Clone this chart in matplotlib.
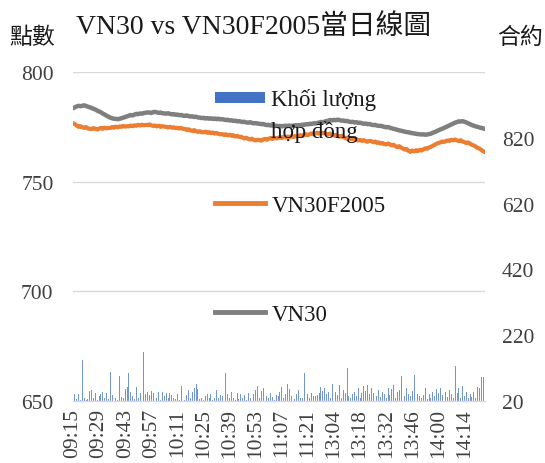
import matplotlib
matplotlib.use("Agg")
import matplotlib.pyplot as plt
from matplotlib.patches import Patch, Rectangle
from matplotlib.lines import Line2D
from matplotlib.legend_handler import HandlerPatch
import numpy as np

plt.rcParams['font.family'] = ['Liberation Serif', 'Noto Sans CJK TC', 'DejaVu Sans']

# ---- categories (minutes) ----
morning = [f"{h:02d}:{m:02d}" for h in (9, 10, 11) for m in range(60)
           if (h, m) >= (9, 15) and (h, m) <= (11, 30)]
afternoon = [f"{h:02d}:{m:02d}" for h in (13, 14) for m in range(60)
             if (h, m) <= (14, 25)]
times = morning + afternoon

vn30 = [
    783.5, 783.9, 784.3, 784.6, 784.4, 784.6, 784.8, 784.5, 784.2, 783.9,
    783.6, 783.2, 782.9, 782.4, 782.0, 781.6, 781.0, 780.6, 780.1, 779.6,
    779.2, 778.9, 778.7, 778.6, 778.5, 778.7, 778.9, 779.2, 779.5, 779.8,
    780.1, 780.4, 780.2, 780.6, 780.9, 780.8, 781.1, 781.0, 781.3, 781.4,
    781.6, 781.5, 781.3, 781.7, 781.8, 781.6, 781.4, 781.5, 781.2, 781.1,
    781.0, 781.2, 780.9, 780.7, 780.8, 780.5, 780.6, 780.3, 780.4, 780.1,
    780.0, 780.2, 779.9, 779.7, 779.8, 779.5, 779.6, 779.3, 779.2, 779.0,
    779.1, 778.8, 779.0, 778.7, 778.9, 778.6, 778.8, 778.5, 778.7, 778.4,
    778.5, 778.3, 778.1, 778.2, 777.9, 778.0, 777.7, 777.8, 777.5, 777.6,
    777.4, 777.2, 777.3, 777.0, 776.9, 777.1, 776.8, 776.6, 776.7, 776.5,
    776.4, 776.2, 776.3, 776.0, 775.8, 775.9, 775.6, 775.7, 775.4, 775.5,
    775.3, 775.4, 775.2, 775.4, 775.5, 775.3, 775.6, 775.4, 775.5, 775.7,
    775.6, 775.8, 775.7, 776.0, 775.9, 776.2, 776.1, 776.4, 776.3, 776.6,
    776.5, 776.8, 776.9, 777.2, 777.1, 777.4,
    777.6, 777.8, 778.1, 777.9, 778.2, 778.0, 778.3, 778.1, 777.8, 777.9,
    777.6, 777.7, 777.4, 777.2, 777.3, 777.0, 777.1, 776.8, 776.9, 776.6,
    776.4, 776.5, 776.2, 776.3, 776.0, 775.8, 775.9, 775.6, 775.4, 775.5,
    775.2, 775.0, 774.8, 774.9, 774.6, 774.3, 774.1, 773.9, 773.6, 773.4,
    773.2, 773.0, 772.8, 772.6, 772.5, 772.3, 772.1, 772.0, 771.8, 771.7,
    771.6, 771.5, 771.6, 771.4, 771.5, 771.7, 771.9, 772.3, 772.6, 773.0,
    773.4, 773.8, 774.1, 774.5, 774.9, 775.3, 775.7, 776.1, 776.5, 776.9,
    777.2, 777.5, 777.4, 777.6, 777.3, 777.0, 776.6, 776.2, 775.8, 775.5,
    775.2, 775.0, 774.7, 774.5, 774.3, 774.0,
]

vn30f = [
    776.7, 776.2, 775.6, 775.0, 775.3, 774.8, 774.5, 774.9, 774.3, 774.1,
    774.0, 774.4, 774.1, 773.8, 774.2, 774.5, 774.1, 774.6, 774.3, 774.5,
    774.5, 774.9, 774.6, 775.1, 774.8, 775.2, 775.0, 775.4, 775.1, 775.3,
    775.2, 775.6, 775.3, 775.7, 775.5, 775.9, 775.6, 776.0, 775.7, 775.9,
    775.8, 776.1, 775.7, 775.4, 775.6, 775.2, 775.5, 775.0, 775.3, 775.1,
    775.0, 774.7, 775.0, 774.6, 774.8, 774.4, 774.6, 774.2, 774.5, 774.1,
    774.0, 773.6, 773.9, 773.4, 773.1, 773.5, 773.0, 772.7, 773.0, 772.6,
    772.5, 772.8, 772.3, 772.6, 772.1, 772.4, 771.9, 772.2, 771.8, 771.6,
    771.7, 771.3, 771.6, 771.1, 771.4, 770.9, 771.2, 770.6, 770.9, 770.4,
    770.5, 770.1, 769.7, 770.0, 769.5, 769.2, 769.6, 769.0, 768.8, 769.1,
    769.0, 768.7, 769.2, 769.5, 769.1, 769.6, 769.9, 769.5, 770.0, 769.7,
    770.0, 770.3, 769.9, 770.4, 770.1, 770.6, 770.3, 770.7, 770.4, 770.8,
    770.5, 770.9, 771.2, 770.8, 771.3, 771.6, 771.2, 771.7, 772.0, 771.6,
    772.0, 772.3, 771.9, 772.4, 772.1, 772.2,
    771.8, 771.5, 771.9, 771.4, 771.0, 771.3, 770.8, 770.5, 770.9, 770.3,
    770.0, 769.6, 769.9, 769.4, 769.5, 769.1, 769.4, 768.8, 769.0, 768.6,
    768.9, 768.5, 768.2, 768.6, 768.5, 768.0, 768.3, 767.7, 767.9, 767.4,
    767.6, 767.1, 767.0, 767.4, 767.0, 766.5, 766.8, 766.1, 765.8, 766.2,
    765.5, 765.1, 764.6, 764.9, 764.0, 763.6, 764.2, 763.8, 764.3, 764.0,
    764.5, 764.2, 764.8, 765.2, 765.0, 765.6, 765.9, 766.4, 766.8, 767.3,
    767.6, 767.9, 768.3, 768.1, 768.5, 768.8, 768.6, 769.1, 768.9, 769.2,
    768.8, 768.5, 768.9, 768.3, 768.0, 767.6, 767.9, 767.3, 766.8, 766.5,
    766.0, 765.4, 765.1, 764.5, 763.9, 763.5,
]

volume = [
    2500, 42, 25, 40, 22, 145, 30, 24, 26, 50,
    52, 28, 45, 22, 35, 40, 48, 30, 44, 26,
    107, 38, 40, 28, 24, 95, 32, 30, 55, 62,
    106, 48, 34, 26, 62, 30, 45, 24, 170, 42,
    46, 38, 50, 44, 54, 30, 48, 24, 46, 36,
    44, 28, 45, 38, 30, 26, 42, 22, 66, 30,
    24, 38, 52, 28, 48, 60, 72, 56, 26, 30,
    22, 34, 42, 28, 40, 24, 28, 52, 30, 38,
    34, 26, 106, 40, 30, 48, 28, 22, 44, 26,
    40, 30, 38, 24, 45, 28, 60, 40, 52, 66,
    30, 50, 60, 42, 34, 28, 44, 32, 24, 38,
    36, 48, 62, 30, 40, 72, 56, 36, 44, 26,
    40, 52, 30, 30, 106, 60, 42, 28, 45, 36,
    34, 38, 44, 62, 50, 58, 40, 48, 30, 72,
    121, 46, 38, 68, 30, 52, 44, 121, 36, 30,
    40, 48, 34, 60, 28, 44, 66, 50, 70, 40,
    58, 44, 62, 36, 52, 32, 48, 40, 28, 60,
    38, 56, 70, 30, 46, 52, 97, 44, 36, 60,
    40, 34, 50, 98, 28, 42, 36, 30, 38, 60,
    26, 42, 30, 48, 34, 56, 44, 60, 38, 26,
    46, 32, 54, 40, 30, 125, 44, 58, 30, 66,
    36, 46, 28, 40, 32, 48, 30, 62, 58, 92,
    94, 40,
]

x = np.arange(len(times))

W, H = 545, 464
fig = plt.figure(figsize=(W / 100, H / 100), dpi=100)
ax = fig.add_axes([73 / W, 1 - 402 / H, (485 - 73) / W, (402 - 73) / H])
ax2 = ax.twinx()

ax.plot(x, vn30f, color='#ED7D31', lw=3.0, solid_capstyle='round', zorder=3)
ax.plot(x, vn30, color='#7F7F7F', lw=3.2, solid_capstyle='round', zorder=3)

ax2.bar(x, volume, bottom=0, width=0.5, color='#4472C4', alpha=0.75,
        linewidth=0, zorder=2)
ax2.set_ylim(20, 1020)
ax2.set_yticks([20, 220, 420, 620, 820])

ax.set_ylim(650, 800)
ax.set_yticks([650, 700, 750, 800])
ax.set_xlim(0, len(times) - 1)
ax.set_xticks(x[::14])
ax.set_xticklabels(times[::14], rotation=90)

ax.set_zorder(ax2.get_zorder() + 1)
ax.patch.set_visible(False)

ax.grid(axis='y', color='#D9D9D9', lw=1.0)
ax.set_axisbelow(True)
for a in (ax, ax2):
    for s in ('top', 'left', 'right'):
        a.spines[s].set_visible(False)
    a.spines['bottom'].set_color('#D9D9D9')
    a.tick_params(length=0, labelsize=15.5, colors='#404040')
ax.tick_params(axis='y', pad=14)
ax2.tick_params(axis='y', pad=12)
ax.tick_params(axis='x', pad=5)

fig.text(254 / W, 1 - 27 / H, 'VN30 vs VN30F2005當日線圖', ha='center', va='center',
         fontsize=20, color='#1a1a1a')
fig.text(32 / W, 1 - 38 / H, '點數', ha='center', va='center', fontsize=16.5, color='#1a1a1a')
fig.text(520 / W, 1 - 38 / H, '合約', ha='center', va='center', fontsize=16.5, color='#1a1a1a')


def top_patch(legend, orig_handle, xdescent, ydescent, width, height, fontsize):
    hh = 0.48 * fontsize
    yc = 1.1 * fontsize
    return Rectangle((-xdescent, yc - hh / 2), width, hh)


# legend entries (three separate legends for vertical placement)
items = [
    (Patch(facecolor='#4472C4', edgecolor='none'), 'Khối lượng\nhợp đồng', 89,
     {Patch: HandlerPatch(patch_func=top_patch)}),
    (Line2D([], [], color='#ED7D31', lw=3.5), 'VN30F2005', 196, None),
    (Line2D([], [], color='#7F7F7F', lw=3.5), 'VN30', 305, None),
]
for handle, label, ytop, hmap in items:
    leg = fig.legend([handle], [label], loc='upper left',
                     bbox_to_anchor=(215 / W, 1 - ytop / H), frameon=False,
                     fontsize=16.5, handlelength=2.2, handletextpad=0.26,
                     borderpad=0, borderaxespad=0, handler_map=hmap)
    for t in leg.get_texts():
        t.set_color('#1a1a1a')
        t.set_linespacing(1.6)

fig.savefig('out.png', dpi=100)
